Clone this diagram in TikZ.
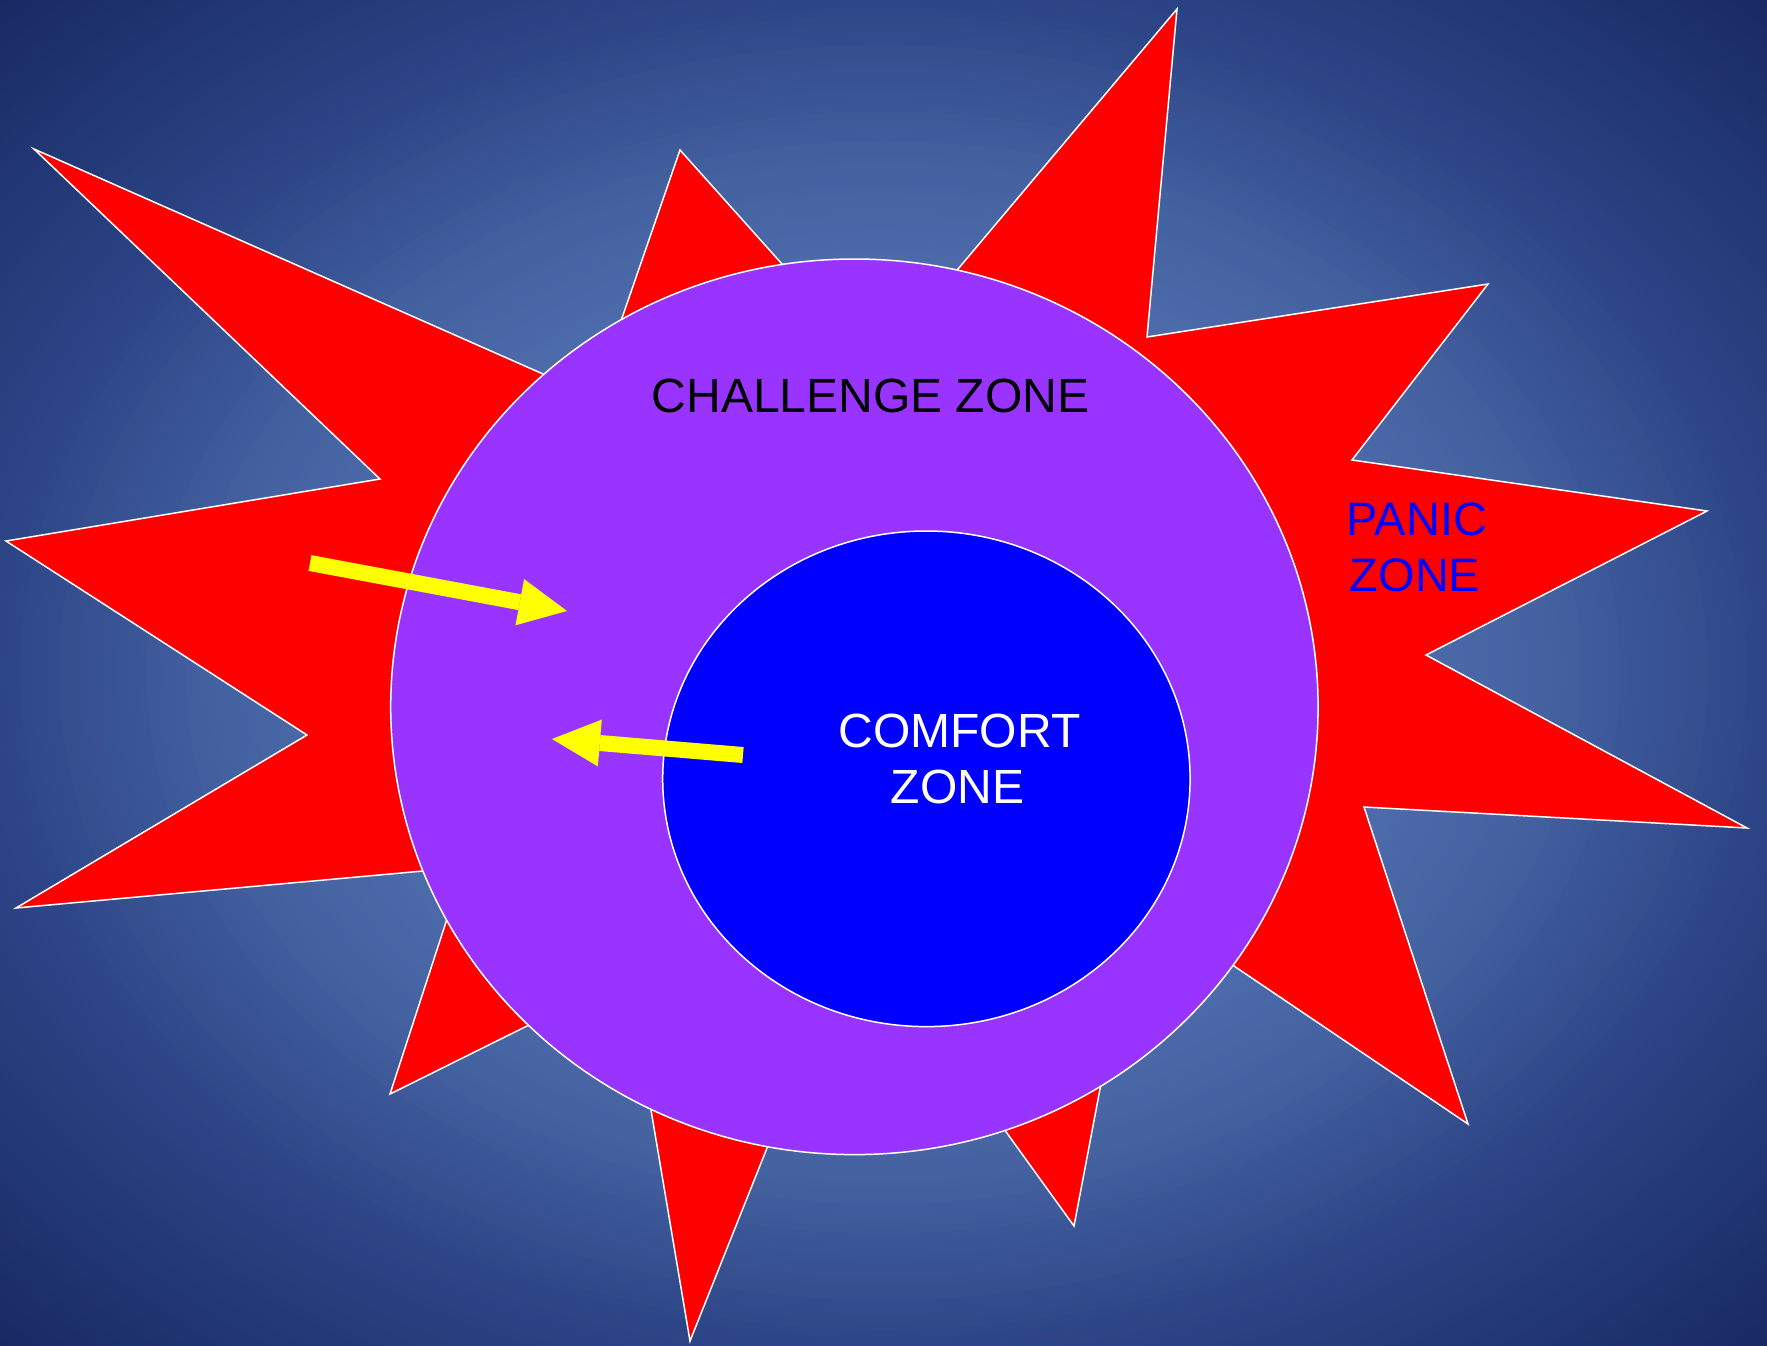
\documentclass[tikz,border=0pt]{standalone}
\usepackage{fontspec}
\setmainfont{Liberation Sans}
\usetikzlibrary{arrows.meta,shapes.geometric}
\definecolor{bglight}{RGB}{84,115,178}
\definecolor{bgmidA}{RGB}{68,97,160}
\definecolor{bgmidB}{RGB}{45,70,135}
\definecolor{bgdark}{RGB}{24,42,100}
\definecolor{panicred}{RGB}{255,0,0}
\definecolor{challengepurple}{RGB}{153,51,255}
\definecolor{comfortblue}{RGB}{0,0,255}
\definecolor{arrowyellow}{RGB}{255,255,0}
\begin{document}
\begin{tikzpicture}[x=1pt,y=-1pt,
  starshape/.style={fill=panicred,draw=white,line width=1.5pt,line join=miter},
  zoneoval/.style={ellipse,draw=white,line width=1.5pt,inner sep=0pt},
  zonetext/.style={font=\fontsize{48}{56}\selectfont,inner sep=0pt,anchor=base},
  yarrow/.style={draw=arrowyellow,line width=16pt,line cap=butt,-{Triangle[length=48pt,width=47pt,line width=0pt]}}]
\useasboundingbox (0,0) rectangle (1767,1345);
% background: elliptical gradient built from rings
\begin{scope}
\clip (0,0) rectangle (1767,1345);
\fill[bgdark] (0,0) rectangle (1767,1345);
\foreach \k in {0,...,90}{
  \pgfmathsetmacro\rr{1.45-(1.45-0.46)*\k/90}
  \pgfmathtruncatemacro\seg{\rr>=1 ? 2 : (\rr>=0.76 ? 1 : 0)}
  \ifcase\seg
    \pgfmathtruncatemacro\pc{max(0,min(100,(\rr-0.48)/0.28*100))}
    \colorlet{ringcol}{bgmidA!\pc!bglight}
  \or
    \pgfmathtruncatemacro\pc{max(0,min(100,(\rr-0.76)/0.24*100))}
    \colorlet{ringcol}{bgmidB!\pc!bgmidA}
  \else
    \pgfmathtruncatemacro\pc{max(0,min(100,(\rr-1)/0.414*100))}
    \colorlet{ringcol}{bgdark!\pc!bgmidB}
  \fi
  \fill[ringcol] (883.5,672.5) ellipse [x radius=\rr*883.5, y radius=\rr*672.5];
}
\end{scope}
% star points
\coordinate (t1) at (34,149);
\coordinate (c1) at (543,374);
\coordinate (c2) at (622,318);
\coordinate (t2) at (680,150);
\coordinate (c3) at (782,264);
\coordinate (c4) at (958,269);
\coordinate (t3) at (1177,9);
\coordinate (v3) at (1147,337);
\coordinate (t4) at (1488,284);
\coordinate (v4) at (1352,460);
\coordinate (t5) at (1707,511);
\coordinate (v5) at (1426,655);
\coordinate (t6) at (1747,828);
\coordinate (v6) at (1364,807);
\coordinate (t7) at (1468,1124);
\coordinate (c7) at (1234,966);
\coordinate (c8) at (1100,1089);
\coordinate (t8) at (1074,1226);
\coordinate (c9) at (1004,1129);
\coordinate (c10) at (767,1148);
\coordinate (t9) at (690,1341);
\coordinate (c11) at (651,1110);
\coordinate (c12) at (527,1026);
\coordinate (t10) at (390,1094);
\coordinate (c13) at (446,922);
\coordinate (c14) at (423,871);
\coordinate (t11) at (16,908);
\coordinate (v11) at (307,735);
\coordinate (t12) at (6,541);
\coordinate (v12) at (380,479);
\draw[starshape] (t1) -- (c1) -- (intersection of t1--c1 and c2--t2) -- (c2) -- (t2) -- (c3)
  -- (intersection of t2--c3 and c4--t3) -- (c4) -- (t3) -- (v3) -- (t4) -- (v4) -- (t5) -- (v5)
  -- (t6) -- (v6) -- (t7) -- (c7) -- (intersection of t7--c7 and c8--t8) -- (c8) -- (t8) -- (c9)
  -- (intersection of t8--c9 and c10--t9) -- (c10) -- (t9) -- (c11)
  -- (intersection of t9--c11 and c12--t10) -- (c12) -- (t10) -- (c13)
  -- (intersection of t10--c13 and c14--t11) -- (c14) -- (t11) -- (v11) -- (t12) -- (v12) -- cycle;
% zones
\node[zoneoval,fill=challengepurple,minimum width=927.4pt,minimum height=895.6pt] (challenge) at (854.4,706.8) {};
\node[zoneoval,fill=comfortblue,minimum width=527.4pt,minimum height=495.6pt] (comfort) at (926.4,778.8) {};
% labels
\node[zonetext,text=black] (challengelbl) at (870.5,412) {CHALLENGE ZONE};
\node[zonetext,text=white] (comfortlbla) at (959.5,747) {COMFORT};
\node[zonetext,text=white] (comfortlblb) at (957.5,803) {ZONE};
\node[zonetext,text=comfortblue,font=\fontsize{47}{56}\selectfont] (paniclbla) at (1417,535) {PANIC};
\node[zonetext,text=comfortblue,font=\fontsize{47}{56}\selectfont] (paniclblb) at (1415,591) {ZONE};
% arrows
\coordinate (a1s) at (310,563);
\coordinate (a1e) at (567,611);
\coordinate (a2s) at (743,755);
\coordinate (a2e) at (552,739);
\draw[yarrow] (a1s) -- (a1e);
\draw[yarrow] (a2s) -- (a2e);
\end{tikzpicture}
\end{document}
